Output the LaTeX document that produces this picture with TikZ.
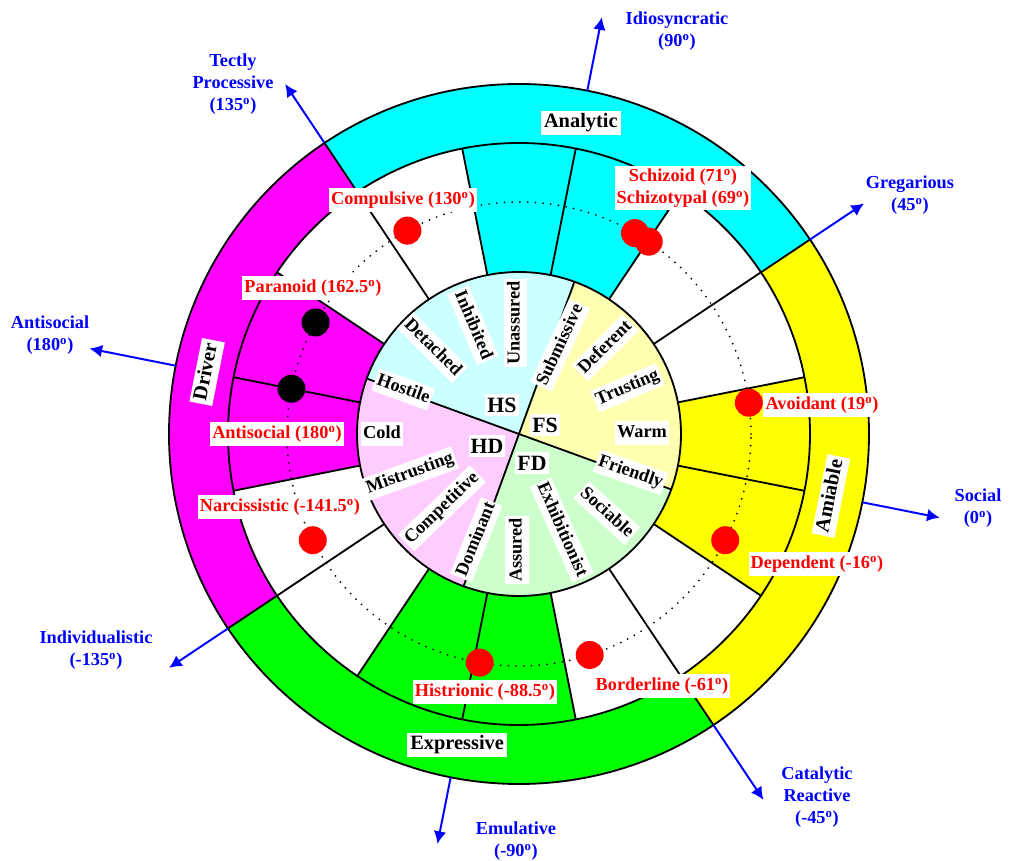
\documentclass[tikz,border=0pt]{standalone}
\usepackage{fontspec}
\setmainfont{Liberation Serif}
\usetikzlibrary{arrows.meta}
\definecolor{BandCyan}{RGB}{0,255,255}
\definecolor{BandMagenta}{RGB}{255,0,255}
\definecolor{BandGreen}{RGB}{0,255,0}
\definecolor{BandYellow}{RGB}{255,255,0}
\definecolor{PaleCyan}{RGB}{204,255,255}
\definecolor{PalePink}{RGB}{255,204,255}
\definecolor{PaleGreen}{RGB}{204,255,204}
\definecolor{PaleYellow}{RGB}{255,255,176}
\definecolor{AxisBlue}{RGB}{0,0,255}
\definecolor{DotRed}{RGB}{255,0,0}

\begin{document}
\begin{tikzpicture}[x=0.025cm,y=0.025cm,>={Latex[length=9pt,width=9pt]},
    tag/.style={fill=white,inner xsep=1.5pt,inner ysep=2pt,text height=9.5pt,text depth=3pt,
      font=\bfseries\fontsize{13}{15.6}\selectfont},
    ptag/.style={tag,text=DotRed},
    band/.style={tag,inner xsep=2.5pt,font=\bfseries\fontsize{14.5}{17}\selectfont},
    quad/.style={tag,text height=11pt,text depth=1pt,font=\bfseries\fontsize{15.5}{18}\selectfont},
    axtag/.style={text=AxisBlue,align=center,inner sep=0pt,font=\bfseries\fontsize{13}{15.6}\selectfont},
    axis/.style={->,AxisBlue,line width=1.4pt},
    rim/.style={line width=1.3pt}]
  \useasboundingbox (-519,-427) rectangle (490,434);
  \coordinate (O) at (0,0);
  % outer bands
  \foreach \a/\col in {33.75/BandCyan,123.75/BandMagenta,213.75/BandGreen,303.75/BandYellow}
    \fill[\col] (\a:291) arc[start angle=\a,delta angle=90,radius=291]
      -- (\a+90:350) arc[start angle=\a+90,delta angle=-90,radius=350] -- cycle;
  % coloured sectors of the middle ring
  \foreach \a/\col in {56.25/BandCyan,146.25/BandMagenta,236.25/BandGreen,-33.75/BandYellow}
    \fill[\col] (\a:162) arc[start angle=\a,delta angle=45,radius=162]
      -- (\a+45:291) arc[start angle=\a+45,delta angle=-45,radius=291] -- cycle;
  % inner quadrants
  \foreach \a/\col in {70/PaleCyan,160/PalePink,250/PaleGreen,-20/PaleYellow}
    \fill[\col] (O) -- (\a:162) arc[start angle=\a,delta angle=90,radius=162] -- cycle;
  \draw[line width=1.4pt,line cap=round,dash pattern=on 0pt off 5.5pt] (O) circle[radius=232];
  \foreach \k in {0,...,15}
    \draw[rim] (11.25+22.5*\k:162) -- (11.25+22.5*\k:291);
  \foreach \a in {33.75,123.75,213.75,303.75}
    \draw[rim] (\a:291) -- (\a:350);
  \draw[rim] (70:162) -- (250:162);
  \draw[rim] (160:162) -- (340:162);
  \foreach \r in {162,291,350}
    \draw[rim] (O) circle[radius=\r];
  % disorders
  \foreach \a/\col in {118.75/DotRed,151.25/black,168.75/black,207.25/DotRed,260.25/DotRed,
      287.75/DotRed,-27.25/DotRed,7.75/DotRed,60/DotRed,56/DotRed}
    \fill[\col] (\a:232) circle[radius=14];
  \node[ptag] (compulsive) at (-116,234) {Compulsive (130\textsuperscript{o})};
  \node[ptag] (paranoid) at (-206,146) {Paranoid (162.5\textsuperscript{o})};
  \node[ptag] (antisocial) at (-242,0) {Antisocial (180\textsuperscript{o})};
  \node[ptag] (narcissistic) at (-239,-73) {Narcissistic (-141.5\textsuperscript{o})};
  \node[ptag] (histrionic) at (-34,-258) {Histrionic (-88.5\textsuperscript{o})};
  \node[ptag] (borderline) at (143,-252) {Borderline (-61\textsuperscript{o})};
  \node[ptag] (dependent) at (298,-130) {Dependent (-16\textsuperscript{o})};
  \node[ptag] (avoidant) at (303,29) {Avoidant (19\textsuperscript{o})};
  \node[ptag,align=center,text height=,text depth=] (schizoid) at (164,246)
    {Schizoid (71\textsuperscript{o})\\Schizotypal (69\textsuperscript{o})};
  % inner words
  \foreach \a/\r/\t/\w in {92/111/90/Unassured,113/118/-67/Inhibited,135/122/-45/Detached,
      159/124/-20/Hostile,180/137/0/Cold,200/116/20/Mistrusting,224/107/44/Competitive,
      248/114/68/Dominant,269/116/90/Assured,294/105/-66/Exhibitionist,318/118/-42/Sociable,
      341/118/-19/Friendly,0.5/123/0/Warm,23/118/23/Trusting,45/122/45/Deferent,65/98/65/Submissive}
    \node[tag,rotate=\t] (w-\w) at (\a:\r) {\w};
  \node[quad] (hs) at (-17,29) {HS};
  \node[quad] (fs) at (26,9) {FS};
  \node[quad] (hd) at (-32,-12) {HD};
  \node[quad] (fd) at (13,-29) {FD};
  % styles
  \node[band] (analytic) at (78.75:317) {Analytic};
  \node[band,rotate=78.75] (driver) at (168.75:318) {Driver};
  \node[band,rotate=78.75] (amiable) at (-11.25:318) {Amiable};
  \node[band] (expressive) at (258.75:317) {Expressive};
  % axes
  \foreach \a/\l [count=\i] in {-11.25/429,33.75/415,78.75/425,123.75/421,168.75/438,
      213.75/421,258.75/418,303.75/440}{
    \coordinate (ax-s\i) at (\a:350);
    \coordinate (ax-e\i) at (\a:\l);
    \draw[axis] (ax-s\i) -- (ax-e\i);
  }
  \node[axtag] (social) at (459,-74) {Social\\(0\textsuperscript{o})};
  \node[axtag] (gregarious) at (391,239) {Gregarious\\(45\textsuperscript{o})};
  \node[axtag] (idiosyncratic) at (158,403) {Idiosyncratic\\(90\textsuperscript{o})};
  \node[axtag] (tectly) at (-286,350) {Tectly\\Processive\\(135\textsuperscript{o})};
  \node[axtag] (antisocialax) at (-469,99) {Antisocial\\(180\textsuperscript{o})};
  \node[axtag] (individualistic) at (-423,-216) {Individualistic\\(-135\textsuperscript{o})};
  \node[axtag] (emulative) at (-3,-407) {Emulative\\(-90\textsuperscript{o})};
  \node[axtag] (catalytic) at (298,-363) {Catalytic\\Reactive\\(-45\textsuperscript{o})};
\end{tikzpicture}
\end{document}
